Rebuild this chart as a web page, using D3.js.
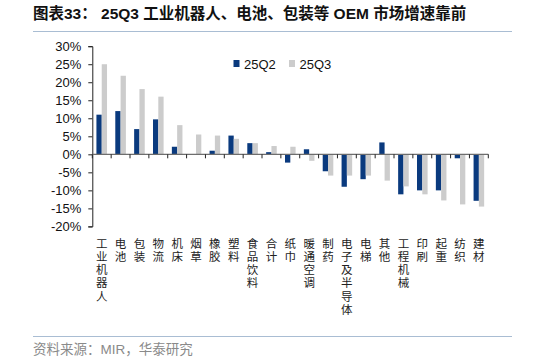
<!DOCTYPE html>
<html>
<head>
<meta charset="utf-8">
<script src="https://cdn.jsdelivr.net/npm/d3@7"></script>
<style>
  body { margin: 0; background: #fff; }
  text { font-family: "Liberation Sans", Arial, "Noto Sans CJK SC", sans-serif; }
</style>
</head>
<body>
<div id="container"></div>
<script>
// categories (x axis), read left to right
const categories = ['工业机器人', '电池', '包装', '物流', '机床', '烟草', '橡胶', '塑料', '食品饮料', '合计',
  '纸巾', '暖通空调', '制药', '电子及半导体', '电梯', '其他', '工程机械', '印刷', '起重', '纺织', '建材'];

// growth rates in %
const q2 = [11.0, 12.0, 7.0, 9.7, 2.1, 0.0, 1.0, 5.2, 3.1, 0.6,
  -2.3, 1.4, -4.7, -9.0, -6.9, 3.3, -11.1, -10.0, -10.0, -1.1, -12.9];
const q3 = [25.0, 21.8, 18.1, 16.0, 8.1, 5.5, 5.2, 4.3, 3.1, 2.3,
  2.1, -1.8, -5.9, -5.9, -5.9, -7.3, -8.9, -11.1, -12.8, -13.9, -14.5];

const seriesNames = ['25Q2', '25Q3'];
const yTicks = [30, 25, 20, 15, 10, 5, 0, -5, -10, -15, -20];

const colors = { '25Q2': '#0a3a7e', '25Q3': '#cccccc' };

const width = 534, height = 361;
const plot = { left: 92.3, right: 488.3, top: 46.2, bottom: 226.4 };

const svg = d3.select('#container').append('svg')
  .attr('width', width)
  .attr('height', height);

// title + rule lines
svg.append('text')
  .attr('x', 33)
  .attr('y', 19)
  .attr('font-size', 15.5)
  .attr('font-weight', 'bold')
  .attr('fill', '#111')
  .text('图表33：  25Q3 工业机器人、电池、包装等 OEM 市场增速靠前');

svg.append('line')
  .attr('x1', 33).attr('x2', 512)
  .attr('y1', 31.5).attr('y2', 31.5)
  .attr('stroke', '#a9bdd3')
  .attr('stroke-width', 1.2);

svg.append('line')
  .attr('x1', 33).attr('x2', 512)
  .attr('y1', 336.5).attr('y2', 336.5)
  .attr('stroke', '#a9bdd3')
  .attr('stroke-width', 1.2);

svg.append('text')
  .attr('x', 33)
  .attr('y', 354)
  .attr('font-size', 13.5)
  .attr('fill', '#8a8a8a')
  .text('资料来源：MIR，华泰研究');

// scales
const x0 = d3.scaleBand().domain(categories).range([plot.left, plot.right]);
const x1 = d3.scaleBand().domain(seriesNames).range([0, x0.bandwidth()]).paddingOuter(0.78);
const y = d3.scaleLinear().domain([-20, 30]).range([plot.bottom, plot.top]);

// y axis
const yAxis = svg.append('g')
  .attr('transform', 'translate(' + plot.left + ',0)')
  .call(d3.axisLeft(y).tickValues(yTicks).tickSize(4).tickPadding(7).tickFormat(d => d + '%'));
yAxis.select('.domain').attr('stroke', '#222');
yAxis.selectAll('.tick line').attr('stroke', '#222');
yAxis.selectAll('.tick text').attr('font-size', 13).attr('fill', '#111')
  .attr('font-family', '"Liberation Sans", Arial, sans-serif');

// bars
const rows = categories.map((c, i) => ({ cat: c, vals: [q2[i], q3[i]] }));
const groups = svg.selectAll('g.cat')
  .data(rows)
  .enter()
  .append('g')
  .attr('class', 'cat')
  .attr('transform', d => 'translate(' + x0(d.cat) + ',0)');

groups.selectAll('rect')
  .data(d => d.vals.map((v, j) => ({ key: seriesNames[j], v: v })))
  .enter()
  .append('rect')
  .attr('x', d => x1(d.key))
  .attr('width', x1.bandwidth())
  .attr('y', d => y(Math.max(0, d.v)))
  .attr('height', d => Math.abs(y(d.v) - y(0)))
  .attr('fill', d => colors[d.key]);

// x axis line at zero with boundary ticks
const zeroY = y(0);
svg.append('line')
  .attr('x1', plot.left).attr('x2', plot.right)
  .attr('y1', zeroY).attr('y2', zeroY)
  .attr('stroke', '#6e6e6e')
  .attr('stroke-width', 1.3);

const bounds = categories.map(c => x0(c)).concat([plot.right]);
svg.selectAll('line.xtick')
  .data(bounds)
  .enter()
  .append('line')
  .attr('class', 'xtick')
  .attr('x1', d => d).attr('x2', d => d)
  .attr('y1', zeroY).attr('y2', zeroY + 4)
  .attr('stroke', '#222');

// vertical category labels, one char per line
const labels = svg.selectAll('text.cat')
  .data(categories)
  .enter()
  .append('text')
  .attr('class', 'cat')
  .attr('text-anchor', 'middle')
  .attr('font-size', 11.5)
  .attr('fill', '#222')
  .attr('font-family', '"Noto Sans CJK SC", sans-serif');

labels.each(function (c) {
  const t = d3.select(this);
  const cx = x0(c) + x0.bandwidth() / 2;
  Array.from(c).forEach((ch, k) => {
    t.append('tspan')
      .attr('x', cx)
      .attr('y', 247.5 + k * 13.3)
      .text(ch);
  });
});

// legend
const legend = svg.append('g').attr('transform', 'translate(233.5,0)');
seriesNames.forEach((s, i) => {
  const lx = i * 55.5;
  legend.append('rect')
    .attr('x', lx).attr('y', 60)
    .attr('width', 6).attr('height', 7)
    .attr('fill', colors[s]);
  legend.append('text')
    .attr('x', lx + 10.5).attr('y', 68.5)
    .attr('font-size', 13)
    .attr('fill', '#111')
    .text(s);
});
</script>
</body>
</html>
